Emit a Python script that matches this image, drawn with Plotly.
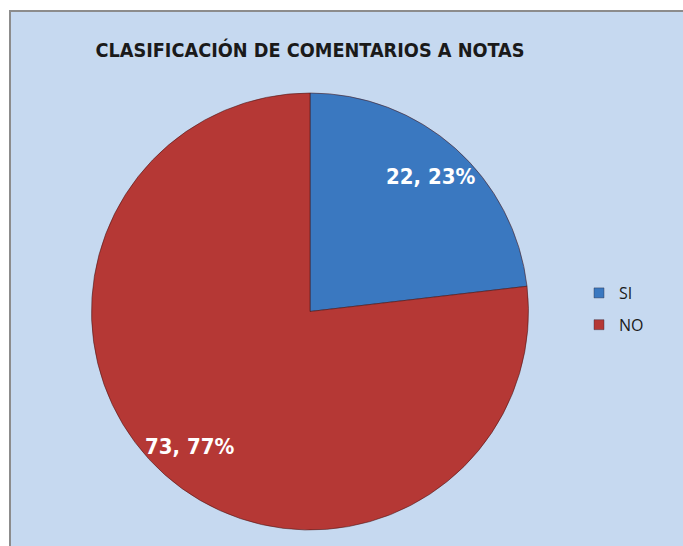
import math
import plotly.graph_objects as go

categories = ["SI", "NO"]
values = [22, 73]
colors = ["#3a78c0", "#b53835"]
title_text = "CLASIFICACIÓN DE COMENTARIOS A NOTAS"

W, H = 683, 546
cx, cy, r = 310, 311.5, 218.5

fig = go.Figure()
fig.add_trace(go.Pie(
    labels=categories,
    values=values,
    sort=False,
    direction="clockwise",
    rotation=0,
    marker=dict(colors=colors, line=dict(color="rgba(70,20,20,0.55)", width=1)),
    textinfo="none",
    domain=dict(x=[(cx - r) / W, (cx + r) / W], y=[(H - cy - r) / H, (H - cy + r) / H]),
    hoverinfo="label+value+percent",
    showlegend=False,
))

# data labels placed along each slice's mid-angle (Excel "best fit" style)
total = sum(values)
acc = 0
for v in values:
    mid = (acc + v / 2) / total * 2 * math.pi
    acc += v
    rr = 0.83 * r
    px = cx + rr * math.sin(mid)
    py = cy - rr * math.cos(mid)
    fig.add_annotation(
        x=px / W, y=(H - py) / H, xref="paper", yref="paper",
        text=f"{v}, {round(v / total * 100)}%", showarrow=False,
        xanchor="center", yanchor="middle",
        font=dict(family="DejaVu Sans Condensed, Open Sans", size=22, color="white", weight="bold"),
    )

# legend entries
for name, col in zip(categories, colors):
    fig.add_trace(go.Scatter(
        x=[None], y=[None], mode="markers", name=name, legendgroup=name,
        marker=dict(symbol="square", size=10, color=col, line=dict(color="rgba(40,40,60,0.4)", width=1)),
    ))

fig.add_shape(type="rect", xref="paper", yref="paper",
              x0=10 / W, x1=1.05, y0=-0.05, y1=(H - 11) / H,
              fillcolor="#c6d9f0", line=dict(color="#8c8c8c", width=2), layer="below")

fig.update_layout(
    width=W, height=H,
    margin=dict(l=0, r=0, t=0, b=0),
    paper_bgcolor="white",
    plot_bgcolor="rgba(0,0,0,0)",
    xaxis=dict(visible=False),
    yaxis=dict(visible=False),
    title=dict(text=title_text, x=310 / W, xanchor="center", y=(H - 50) / H, yanchor="middle",
               font=dict(family="DejaVu Sans Condensed, Open Sans", size=19.7, color="#1a1a1a", weight="bold")),
    showlegend=True,
    legend=dict(x=579 / W, y=(H - 276) / H, xanchor="left", yanchor="top",
                font=dict(family="Open Sans", size=16, color="#1a1a1a"),
                bgcolor="rgba(0,0,0,0)", itemwidth=30, tracegroupgap=8),
)

fig.write_html("out.html", config={"displayModeBar": False},
               post_script="document.body.style.margin='0';document.body.style.overflow='hidden';")
